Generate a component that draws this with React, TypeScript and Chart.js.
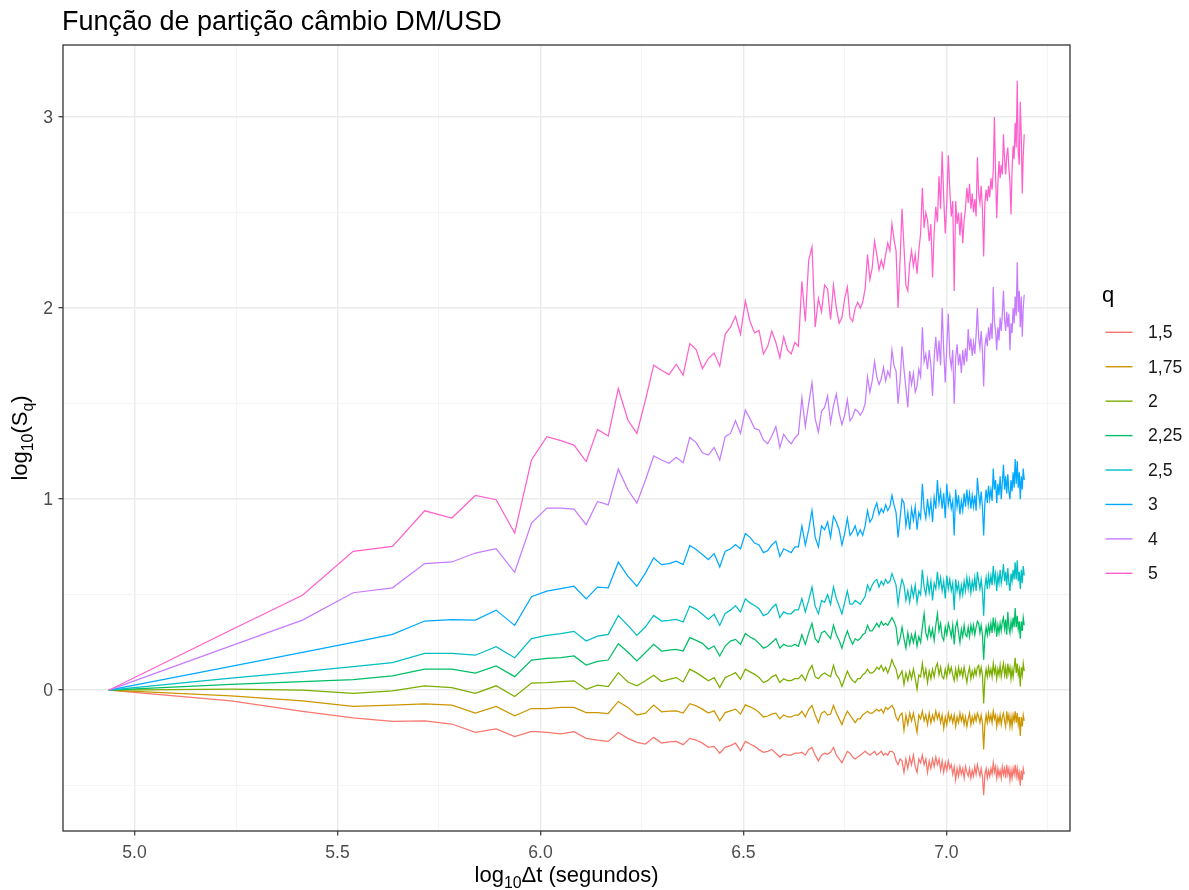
import React, { useEffect, useRef } from "react";
import { Chart, registerables } from "chart.js";

Chart.register(...registerables);

// Aggregation window Δt, in days (converted to seconds on the x axis)
const DAYS = [
  1, 2, 3, 4, 5, 6, 7, 8, 9, 10,
  11, 12, 13, 14, 15, 16, 17, 18, 19, 20,
  21, 22, 23, 24, 25, 26, 27, 28, 29, 30,
  31, 32, 33, 34, 35, 36, 37, 38, 39, 40,
  41, 42, 43, 44, 45, 46, 47, 48, 49, 50,
  51, 52, 53, 54, 55, 56, 57, 58, 59, 60,
  61, 62, 63, 64, 65, 66, 67, 68, 69, 70,
  71, 72, 73, 74, 75, 76, 77, 78, 79, 80,
  81, 82, 83, 84, 85, 86, 87, 88, 89, 90,
  91, 92, 93, 94, 95, 96, 97, 98, 99, 100,
  101, 102, 103, 104, 105, 106, 107, 108, 109, 110,
  111, 112, 113, 114, 115, 116, 117, 118, 119, 120,
  121, 122, 123, 124, 125, 126, 127, 128, 129, 130,
  131, 132, 133, 134, 135, 136, 137, 138, 139, 140,
  141, 142, 143, 144, 145, 146, 147, 148, 149, 150,
  151, 152, 153, 154, 155, 156, 157, 158, 159, 160,
  161, 162, 163, 164, 165, 166, 167, 168, 169, 170,
  171, 172, 173, 174, 175, 176, 177, 178, 179, 180,
];
const SECONDS_PER_DAY = 86400;

const Q_LABELS = ["1,5", "1,75", "2", "2,25", "2,5", "3", "4", "5"];
const Q_COLORS = ["#F8766D", "#CD9600", "#7CAE00", "#00BE67", "#00BFC4", "#00A9FF", "#C77CFF", "#FF61CC"];

// log10(S_q) for each moment q, one value per Δt
const LOG_S_Q1_5 = [
  0, -0.056, -0.111, -0.145, -0.163, -0.16, -0.177, -0.221, -0.203, -0.243,
  -0.216, -0.221, -0.228, -0.217, -0.252, -0.261, -0.268, -0.221, -0.252, -0.273,
  -0.282, -0.247, -0.277, -0.27, -0.268, -0.285, -0.252, -0.261, -0.277, -0.299,
  -0.294, -0.33, -0.299, -0.29, -0.277, -0.317, -0.268, -0.282, -0.294, -0.311,
  -0.325, -0.32, -0.31, -0.33, -0.35, -0.335, -0.34, -0.34, -0.33, -0.33,
  -0.325, -0.34, -0.31, -0.3, -0.34, -0.37, -0.34, -0.33, -0.335, -0.325,
  -0.3, -0.34, -0.36, -0.38, -0.35, -0.32, -0.33, -0.35, -0.36, -0.35,
  -0.34, -0.33, -0.32, -0.33, -0.34, -0.33, -0.32, -0.34, -0.33, -0.32,
  -0.34, -0.33, -0.34, -0.32, -0.32, -0.33, -0.37, -0.39, -0.36, -0.37,
  -0.43, -0.36, -0.41, -0.35, -0.39, -0.34, -0.4, -0.43, -0.36, -0.38,
  -0.34, -0.39, -0.36, -0.43, -0.37, -0.41, -0.36, -0.4, -0.35, -0.39,
  -0.36, -0.42, -0.37, -0.43, -0.38, -0.42, -0.37, -0.41, -0.39, -0.44,
  -0.4, -0.47, -0.41, -0.45, -0.4, -0.44, -0.41, -0.46, -0.4, -0.43,
  -0.45, -0.41, -0.46, -0.42, -0.45, -0.4, -0.44, -0.39, -0.42, -0.45,
  -0.41, -0.45, -0.55, -0.44, -0.41, -0.46, -0.42, -0.45, -0.41, -0.44,
  -0.38, -0.43, -0.4, -0.46, -0.41, -0.45, -0.42, -0.46, -0.4, -0.44,
  -0.41, -0.46, -0.39, -0.44, -0.41, -0.47, -0.42, -0.46, -0.41, -0.44,
  -0.39, -0.45, -0.41, -0.46, -0.43, -0.5, -0.42, -0.47, -0.41, -0.44,
];

const LOG_S_Q1_75 = [
  0, -0.03, -0.056, -0.085, -0.078, -0.071, -0.078, -0.12, -0.085, -0.134,
  -0.096, -0.096, -0.09, -0.09, -0.117, -0.118, -0.122, -0.059, -0.09, -0.13,
  -0.12, -0.078, -0.113, -0.11, -0.108, -0.12, -0.071, -0.082, -0.099, -0.12,
  -0.108, -0.16, -0.117, -0.108, -0.099, -0.125, -0.077, -0.087, -0.099, -0.117,
  -0.14, -0.135, -0.125, -0.12, -0.15, -0.13, -0.14, -0.14, -0.13, -0.13,
  -0.11, -0.14, -0.1, -0.08, -0.13, -0.17, -0.12, -0.11, -0.13, -0.125,
  -0.08, -0.12, -0.15, -0.18, -0.14, -0.11, -0.13, -0.15, -0.17, -0.15,
  -0.15, -0.13, -0.12, -0.11, -0.12, -0.12, -0.11, -0.1, -0.11, -0.1,
  -0.12, -0.09, -0.1, -0.09, -0.08, -0.1, -0.14, -0.16, -0.13, -0.12,
  -0.21, -0.13, -0.18, -0.12, -0.16, -0.12, -0.17, -0.22, -0.13, -0.15,
  -0.11, -0.16, -0.13, -0.18, -0.12, -0.17, -0.13, -0.16, -0.11, -0.15,
  -0.12, -0.17, -0.13, -0.2, -0.14, -0.18, -0.12, -0.16, -0.13, -0.17,
  -0.13, -0.19, -0.14, -0.17, -0.12, -0.16, -0.13, -0.18, -0.14, -0.19,
  -0.15, -0.12, -0.18, -0.14, -0.17, -0.13, -0.16, -0.12, -0.14, -0.17,
  -0.13, -0.17, -0.31, -0.18, -0.13, -0.17, -0.12, -0.16, -0.13, -0.17,
  -0.11, -0.15, -0.13, -0.19, -0.14, -0.17, -0.13, -0.18, -0.14, -0.12,
  -0.16, -0.19, -0.11, -0.16, -0.13, -0.19, -0.14, -0.19, -0.13, -0.16,
  -0.11, -0.17, -0.12, -0.18, -0.14, -0.24, -0.14, -0.19, -0.13, -0.16,
];

const LOG_S_Q2 = [
  0, 0.005, 0, -0.017, -0.003, 0.023, 0.014, -0.016, 0.023, -0.033,
  0.037, 0.04, 0.045, 0.049, 0.005, 0.026, 0.019, 0.092, 0.043, 0.023,
  0.049, 0.078, 0.045, 0.057, 0.066, 0.043, 0.11, 0.092, 0.071, 0.049,
  0.066, 0.014, 0.066, 0.078, 0.092, 0.057, 0.11, 0.096, 0.083, 0.066,
  0.04, 0.05, 0.07, 0.08, 0.04, 0.06, 0.05, 0.05, 0.06, 0.06,
  0.08, 0.05, 0.1, 0.13, 0.07, 0.06, 0.08, 0.09, 0.08, 0.07,
  0.13, 0.08, 0.06, 0.02, 0.06, 0.1, 0.07, 0.05, 0.04, 0.06,
  0.06, 0.08, 0.09, 0.11, 0.09, 0.09, 0.1, 0.12, 0.11, 0.13,
  0.1, 0.12, 0.09, 0.12, 0.16, 0.13, 0.11, 0.06, 0.08, 0.1,
  0.03, 0.09, 0.05, 0.1, 0.06, 0.11, 0.06, 0.005, 0.08, 0.07,
  0.14, 0.07, 0.11, 0.04, 0.1, 0.06, 0.11, 0.07, 0.12, 0.14,
  0.08, 0.12, 0.07, 0.06, 0.11, 0.07, 0.13, 0.09, 0.12, 0.08,
  0.05, 0.11, 0.06, 0.12, 0.08, 0.11, 0.07, 0.12, 0.08, 0.04,
  0.09, 0.12, 0.06, 0.1, 0.07, 0.11, 0.08, 0.12, 0.13, 0.08,
  0.12, 0.08, -0.07, 0.06, 0.11, 0.07, 0.12, 0.08, 0.11, 0.07,
  0.14, 0.09, 0.12, 0.06, 0.11, 0.08, 0.13, 0.07, 0.11, 0.14,
  0.08, 0.12, 0.06, 0.14, 0.09, 0.12, 0.06, 0.11, 0.07, 0.12,
  0.17, 0.09, 0.14, 0.08, 0.11, 0.02, 0.12, 0.08, 0.14, 0.1,
];

const LOG_S_Q2_25 = [
  0, 0.03, 0.045, 0.055, 0.075, 0.11, 0.11, 0.089, 0.127, 0.071,
  0.158, 0.167, 0.17, 0.179, 0.132, 0.151, 0.158, 0.243, 0.2, 0.153,
  0.197, 0.24, 0.205, 0.21, 0.214, 0.205, 0.275, 0.261, 0.245, 0.214,
  0.231, 0.179, 0.231, 0.257, 0.266, 0.24, 0.297, 0.278, 0.266, 0.245,
  0.22, 0.23, 0.25, 0.27, 0.22, 0.24, 0.23, 0.23, 0.24, 0.23,
  0.29, 0.24, 0.3, 0.35, 0.27, 0.25, 0.3, 0.31, 0.29, 0.27,
  0.34, 0.29, 0.26, 0.22, 0.27, 0.31, 0.27, 0.24, 0.27, 0.26,
  0.27, 0.29, 0.3, 0.34, 0.31, 0.31, 0.33, 0.35, 0.33, 0.36,
  0.34, 0.35, 0.34, 0.36, 0.38, 0.36, 0.33, 0.24, 0.27, 0.33,
  0.27, 0.22, 0.3, 0.24, 0.29, 0.25, 0.3, 0.23, 0.28, 0.25,
  0.33, 0.4, 0.3, 0.27, 0.33, 0.28, 0.32, 0.26, 0.34, 0.4,
  0.31, 0.35, 0.28, 0.26, 0.33, 0.29, 0.35, 0.32, 0.28, 0.34,
  0.24, 0.33, 0.36, 0.3, 0.25, 0.32, 0.28, 0.34, 0.29, 0.28,
  0.33, 0.28, 0.34, 0.3, 0.34, 0.29, 0.33, 0.36, 0.35, 0.3,
  0.34, 0.29, 0.16, 0.28, 0.33, 0.29, 0.34, 0.3, 0.35, 0.3,
  0.38, 0.32, 0.36, 0.28, 0.34, 0.3, 0.35, 0.31, 0.36, 0.38,
  0.32, 0.37, 0.29, 0.41, 0.33, 0.3, 0.36, 0.32, 0.38, 0.33,
  0.43, 0.33, 0.39, 0.32, 0.36, 0.27, 0.36, 0.31, 0.38, 0.34,
];

const LOG_S_Q2_5 = [
  0, 0.063, 0.097, 0.123, 0.144, 0.193, 0.193, 0.183, 0.228, 0.17,
  0.27, 0.287, 0.296, 0.308, 0.257, 0.283, 0.292, 0.391, 0.339, 0.287,
  0.332, 0.391, 0.362, 0.365, 0.37, 0.357, 0.44, 0.423, 0.397, 0.37,
  0.397, 0.339, 0.402, 0.419, 0.443, 0.409, 0.478, 0.457, 0.443, 0.426,
  0.39, 0.4, 0.43, 0.45, 0.38, 0.41, 0.4, 0.4, 0.42, 0.42,
  0.48, 0.41, 0.47, 0.54, 0.44, 0.4, 0.47, 0.46, 0.5, 0.45,
  0.54, 0.48, 0.44, 0.4, 0.46, 0.52, 0.45, 0.45, 0.47, 0.46,
  0.45, 0.47, 0.49, 0.55, 0.52, 0.55, 0.57, 0.58, 0.54, 0.57,
  0.55, 0.58, 0.56, 0.57, 0.61, 0.58, 0.55, 0.45, 0.53, 0.58,
  0.55, 0.47, 0.52, 0.46, 0.54, 0.49, 0.55, 0.46, 0.52, 0.5,
  0.63, 0.54, 0.5, 0.58, 0.51, 0.57, 0.47, 0.56, 0.53, 0.62,
  0.54, 0.59, 0.52, 0.57, 0.48, 0.6, 0.53, 0.58, 0.52, 0.56,
  0.42, 0.58, 0.52, 0.56, 0.49, 0.55, 0.5, 0.57, 0.52, 0.59,
  0.53, 0.58, 0.51, 0.57, 0.53, 0.59, 0.52, 0.62, 0.57, 0.53,
  0.58, 0.52, 0.39, 0.54, 0.59, 0.53, 0.6, 0.55, 0.6, 0.55,
  0.65, 0.57, 0.61, 0.52, 0.6, 0.56, 0.63, 0.56, 0.6, 0.66,
  0.57, 0.62, 0.55, 0.64, 0.56, 0.52, 0.61, 0.57, 0.63, 0.58,
  0.67, 0.58, 0.68, 0.57, 0.62, 0.53, 0.63, 0.56, 0.65, 0.6,
];

const LOG_S_Q3 = [
  0, 0.125, 0.198, 0.25, 0.292, 0.362, 0.37, 0.367, 0.419, 0.339,
  0.489, 0.518, 0.532, 0.544, 0.478, 0.54, 0.536, 0.67, 0.597, 0.544,
  0.614, 0.692, 0.657, 0.663, 0.675, 0.657, 0.757, 0.736, 0.71, 0.683,
  0.715, 0.645, 0.727, 0.739, 0.762, 0.739, 0.82, 0.8, 0.77, 0.76,
  0.72, 0.73, 0.76, 0.78, 0.7, 0.74, 0.73, 0.72, 0.75, 0.75,
  0.86, 0.76, 0.84, 0.94, 0.8, 0.75, 0.86, 0.84, 0.88, 0.8,
  0.91, 0.88, 0.84, 0.76, 0.82, 0.9, 0.81, 0.83, 0.86, 0.81,
  0.84, 0.81, 0.86, 0.94, 0.88, 0.9, 0.95, 0.98, 0.92, 0.95,
  0.93, 0.97, 0.94, 0.96, 1.02, 0.97, 0.93, 0.8, 0.9, 1.0,
  0.98, 0.86, 0.93, 0.84, 0.95, 0.89, 0.96, 0.84, 0.93, 0.9,
  1.08, 0.95, 0.9, 1.0, 0.92, 0.99, 0.88, 1.01, 0.95, 1.1,
  0.98, 1.04, 0.95, 1.03, 0.9, 1.08, 0.97, 1.02, 0.95, 0.99,
  0.81, 1.05, 0.96, 1.02, 0.92, 0.99, 0.94, 1.03, 0.96, 1.05,
  0.97, 1.03, 0.95, 1.02, 0.96, 1.02, 0.94, 1.11, 1.03, 0.97,
  1.04, 0.96, 0.81, 0.98, 1.05, 0.98, 1.07, 1.0, 1.05, 0.99,
  1.16, 1.05, 1.1, 0.98, 1.08, 1.02, 1.12, 1.0, 1.09, 1.18,
  1.05, 1.12, 1.03, 1.13, 1.04, 1.0, 1.1, 1.04, 1.14, 1.06,
  1.21, 1.08, 1.2, 1.06, 1.14, 1.0, 1.12, 1.05, 1.16, 1.1,
];

const LOG_S_Q4 = [
  0, 0.232, 0.367, 0.51, 0.536, 0.663, 0.671, 0.718, 0.741, 0.617,
  0.875, 0.953, 0.953, 0.948, 0.866, 0.988, 0.97, 1.157, 1.049, 0.979,
  1.1, 1.226, 1.205, 1.188, 1.219, 1.191, 1.323, 1.296, 1.243, 1.231,
  1.271, 1.205, 1.327, 1.344, 1.41, 1.344, 1.466, 1.42, 1.37, 1.362,
  1.31, 1.29, 1.33, 1.38, 1.27, 1.34, 1.31, 1.29, 1.32, 1.34,
  1.53, 1.38, 1.5, 1.61, 1.42, 1.35, 1.46, 1.48, 1.54, 1.4,
  1.49, 1.55, 1.45, 1.39, 1.44, 1.52, 1.41, 1.43, 1.47, 1.46,
  1.44, 1.46, 1.5, 1.64, 1.56, 1.62, 1.72, 1.64, 1.6, 1.63,
  1.69, 1.62, 1.67, 1.64, 1.78, 1.7, 1.67, 1.5, 1.62, 1.8,
  1.68, 1.58, 1.48, 1.67, 1.6, 1.66, 1.56, 1.59, 1.68, 1.64,
  1.9, 1.72, 1.76, 1.68, 1.78, 1.7, 1.54, 1.74, 1.85, 1.72,
  1.83, 1.7, 2.0, 1.78, 1.61, 1.8, 1.97, 1.75, 1.69, 1.78,
  1.5, 1.74, 1.81, 1.7, 1.76, 1.66, 1.78, 1.7, 1.79, 1.72,
  1.89, 1.78, 1.84, 1.75, 1.82, 1.76, 1.86, 2.0, 1.84, 1.79,
  1.88, 1.78, 1.59, 1.8, 1.85, 1.8, 1.9, 1.83, 1.92, 1.84,
  2.11, 1.93, 1.88, 1.78, 1.9, 1.83, 1.95, 1.88, 1.97, 2.09,
  1.94, 1.88, 1.98, 1.9, 1.97, 1.78, 1.92, 1.87, 2.0, 1.92,
  2.06, 1.96, 2.24, 1.98, 2.09, 1.9, 2.06, 1.85, 2.0, 2.07,
];

const LOG_S_Q5 = [
  0, 0.315, 0.497, 0.727, 0.753, 0.939, 0.901, 1.019, 0.997, 0.823,
  1.205, 1.327, 1.306, 1.283, 1.197, 1.365, 1.33, 1.579, 1.414, 1.344,
  1.52, 1.701, 1.675, 1.652, 1.706, 1.649, 1.814, 1.783, 1.683, 1.736,
  1.765, 1.696, 1.863, 1.9, 1.957, 1.863, 2.037, 1.93, 1.87, 1.883,
  1.76, 1.8, 1.88, 1.82, 1.74, 1.85, 1.78, 1.76, 1.82, 1.8,
  2.14, 1.93, 2.25, 2.32, 1.9, 2.05, 1.98, 2.12, 2.1, 1.94,
  2.12, 2.0, 1.92, 1.95, 2.05, 2.11, 1.95, 1.93, 2.0, 2.03,
  2.0, 2.03, 2.1, 2.28, 2.15, 2.21, 2.35, 2.28, 2.2, 2.25,
  2.21, 2.28, 2.34, 2.3, 2.44, 2.36, 2.3, 2.0, 2.25, 2.52,
  2.32, 2.12, 2.09, 2.23, 2.3, 2.22, 2.28, 2.18, 2.3, 2.39,
  2.63, 2.42, 2.5, 2.46, 2.35, 2.44, 2.16, 2.4, 2.53, 2.45,
  2.69, 2.52, 2.82, 2.58, 2.39, 2.55, 2.8, 2.62, 2.48, 2.56,
  2.09, 2.56, 2.44, 2.5, 2.38, 2.5, 2.34, 2.46, 2.52, 2.63,
  2.55, 2.65, 2.52, 2.6, 2.5, 2.57, 2.48, 2.79, 2.6, 2.55,
  2.64, 2.52, 2.27, 2.55, 2.62, 2.56, 2.64, 2.58, 2.68, 2.62,
  2.72, 3.0, 2.7, 2.47, 2.65, 2.77, 2.68, 2.75, 2.7, 2.91,
  2.78, 2.7, 2.8, 2.84, 2.73, 2.66, 2.49, 2.72, 2.85, 2.78,
  2.97, 2.84, 3.19, 2.82, 2.75, 3.08, 2.9, 2.6, 2.8, 2.91,
];

const SERIES = [LOG_S_Q1_5, LOG_S_Q1_75, LOG_S_Q2, LOG_S_Q2_25, LOG_S_Q2_5, LOG_S_Q3, LOG_S_Q4, LOG_S_Q5];

// Axis breaks
const X_MAJOR = [5, 5.5, 6, 6.5, 7];
const X_MAJOR_LABELS = ["5.0", "5.5", "6.0", "6.5", "7.0"];
const X_MINOR = [5.25, 5.75, 6.25, 6.75, 7.25];
const Y_MAJOR = [0, 1, 2, 3];
const Y_MAJOR_LABELS = ["0", "1", "2", "3"];
const Y_MINOR = [-0.5, 0.5, 1.5, 2.5];

const TITLE = "Função de partição câmbio DM/USD";
const FONT = '"Liberation Sans", Arial, Helvetica, sans-serif';

const WIDTH = 1189;
const HEIGHT = 890;

// 5% expansion on both axes
function expandedRange(values: number[]): [number, number] {
  const lo = Math.min(...values);
  const hi = Math.max(...values);
  const pad = (hi - lo) * 0.05;
  return [lo - pad, hi + pad];
}

type Part = { text: string; sub?: boolean };

function partFont(p: Part, size: number) {
  return `${p.sub ? size * 0.72 : size}px ${FONT}`;
}

function measureParts(ctx: CanvasRenderingContext2D, parts: Part[], size: number) {
  let w = 0;
  for (const p of parts) {
    ctx.font = partFont(p, size);
    w += ctx.measureText(p.text).width;
  }
  return w;
}

function drawParts(ctx: CanvasRenderingContext2D, parts: Part[], x: number, y: number, size: number) {
  let cx = x;
  ctx.textAlign = "left";
  ctx.textBaseline = "alphabetic";
  for (const p of parts) {
    ctx.font = partFont(p, size);
    ctx.fillText(p.text, cx, p.sub ? y + size * 0.25 : y);
    cx += ctx.measureText(p.text).width;
  }
}

const X_TITLE: Part[] = [{ text: "log" }, { text: "10", sub: true }, { text: "Δt (segundos)" }];
const Y_TITLE: Part[] = [{ text: "log" }, { text: "10", sub: true }, { text: "(S" }, { text: "q", sub: true }, { text: ")" }];

const decorations = {
  id: "decorations",
  afterDraw(chart: any) {
    const { ctx, chartArea: a, scales } = chart;
    const xs = scales.x;
    const ys = scales.y;
    ctx.save();

    // panel border
    ctx.strokeStyle = "#333333";
    ctx.lineWidth = 1.3;
    ctx.strokeRect(a.left, a.top, a.right - a.left, a.bottom - a.top);

    // tick labels
    ctx.fillStyle = "#4D4D4D";
    ctx.font = `17.6px ${FONT}`;
    ctx.textAlign = "center";
    ctx.textBaseline = "alphabetic";
    X_MAJOR.forEach((v, i) => ctx.fillText(X_MAJOR_LABELS[i], xs.getPixelForValue(v), a.bottom + 27));
    ctx.textAlign = "right";
    ctx.textBaseline = "middle";
    Y_MAJOR.forEach((v, i) => ctx.fillText(Y_MAJOR_LABELS[i], a.left - 10, ys.getPixelForValue(v) + 1));

    // title
    ctx.fillStyle = "#000000";
    ctx.font = `27px ${FONT}`;
    ctx.textAlign = "left";
    ctx.textBaseline = "alphabetic";
    ctx.fillText(TITLE, a.left - 1, 30);

    // axis titles
    const xw = measureParts(ctx, X_TITLE, 22);
    drawParts(ctx, X_TITLE, (a.left + a.right) / 2 - xw / 2, a.bottom + 51, 22);

    ctx.save();
    ctx.translate(27, (a.top + a.bottom) / 2);
    ctx.rotate(-Math.PI / 2);
    const yw = measureParts(ctx, Y_TITLE, 22);
    drawParts(ctx, Y_TITLE, -yw / 2, 0, 22);
    ctx.restore();

    // legend
    const lx = a.right + 32;
    ctx.font = `22px ${FONT}`;
    ctx.fillStyle = "#000000";
    ctx.textAlign = "left";
    ctx.textBaseline = "alphabetic";
    ctx.fillText("q", lx, 301.5);
    chart.data.datasets.forEach((ds: any, i: number) => {
      const y = 332.3 + i * 34.43;
      ctx.strokeStyle = ds.borderColor;
      ctx.lineWidth = 1.4;
      ctx.beginPath();
      ctx.moveTo(lx + 3.5, y);
      ctx.lineTo(lx + 30.5, y);
      ctx.stroke();
      ctx.fillStyle = "#1A1A1A";
      ctx.font = `17.6px ${FONT}`;
      ctx.textBaseline = "middle";
      ctx.fillText(ds.label, lx + 46, y + 1);
    });

    ctx.restore();
  },
};

function isIn(list: number[], v: number) {
  return list.some((m) => Math.abs(m - v) < 1e-9);
}

export default function App() {
  const canvasRef = useRef<HTMLCanvasElement | null>(null);

  useEffect(() => {
    document.body.style.margin = "0";
    const canvas = canvasRef.current;
    if (!canvas) return;

    const xValues = DAYS.map((d) => Math.log10(d * SECONDS_PER_DAY));
    const [xMin, xMax] = expandedRange(xValues);
    const [yMin, yMax] = expandedRange(SERIES.flat());

    const datasets = SERIES.map((vals, i) => ({
      label: Q_LABELS[i],
      data: vals.map((v, j) => ({ x: xValues[j], y: v })),
      borderColor: Q_COLORS[i],
      backgroundColor: Q_COLORS[i],
      borderWidth: 1.25,
      pointRadius: 0,
      tension: 0,
      fill: false,
      order: SERIES.length - i,
    }));

    const gridFor = (major: number[]) => ({
      color: (c: any) => (isIn(major, c.tick?.value) ? "#EBEBEB" : "#F2F2F2"),
      lineWidth: (c: any) => (isIn(major, c.tick?.value) ? 1.4 : 0.8),
      drawTicks: true,
      tickLength: 4.5,
      tickWidth: 1.2,
      tickColor: (c: any) => (isIn(major, c.tick?.value) ? "#333333" : "rgba(0,0,0,0)"),
    });

    const chart = new Chart(canvas, {
      type: "line",
      data: { datasets },
      options: {
        animation: false,
        responsive: false,
        devicePixelRatio: 1,
        events: [],
        layout: { padding: { left: 0, right: 119, top: 45, bottom: 0 } },
        plugins: {
          legend: { display: false },
          tooltip: { enabled: false },
          title: { display: false },
        },
        scales: {
          x: {
            type: "linear",
            min: xMin,
            max: xMax,
            afterBuildTicks: (s: any) => {
              s.ticks = [...X_MAJOR, ...X_MINOR].sort((p, q) => p - q).map((v) => ({ value: v }));
            },
            afterFit: (s: any) => {
              s.height = 59;
            },
            grid: gridFor(X_MAJOR),
            border: { display: false },
            ticks: { display: false },
          },
          y: {
            type: "linear",
            min: yMin,
            max: yMax,
            afterBuildTicks: (s: any) => {
              s.ticks = [...Y_MAJOR, ...Y_MINOR].sort((p, q) => p - q).map((v) => ({ value: v }));
            },
            afterFit: (s: any) => {
              s.width = 63;
            },
            grid: gridFor(Y_MAJOR),
            border: { display: false },
            ticks: { display: false },
          },
        },
      },
      plugins: [decorations],
    } as any);

    return () => chart.destroy();
  }, []);

  return (
    <div style={{ width: WIDTH, height: HEIGHT, background: "#FFFFFF" }}>
      <canvas ref={canvasRef} width={WIDTH} height={HEIGHT} style={{ display: "block" }} />
    </div>
  );
}
